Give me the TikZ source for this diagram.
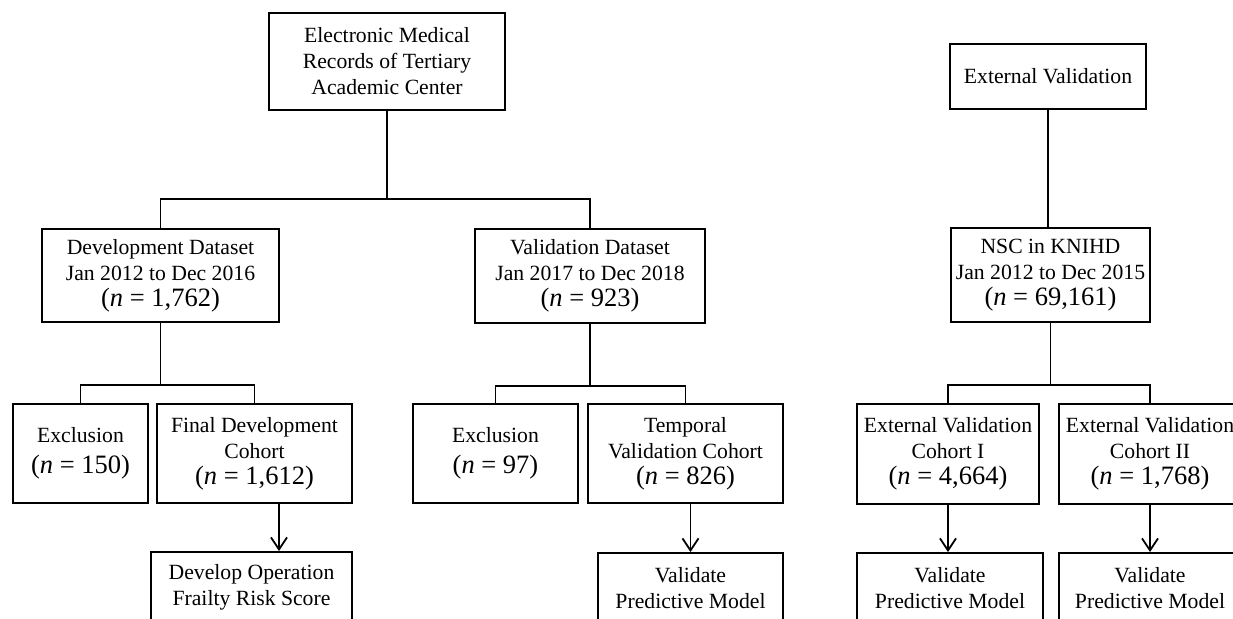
\documentclass[tikz,border=0pt]{standalone}
\usepackage{fontspec}
\setmainfont{Liberation Serif}
\usetikzlibrary{arrows.meta, positioning, calc}

\newcommand{\nsize}[1]{{\fontsize{13.25}{15}\selectfont #1}}

\begin{document}
\begin{tikzpicture}[
    x=0.5pt, y=-0.5pt,
    box/.style={rectangle, draw, line width=1pt, align=center, inner sep=0pt, font=\fontsize{10.85}{13}\selectfont},
    boxsize/.style 2 args={minimum width=#1*0.5pt, minimum height=#2*0.5pt},
    link/.style={line width=0.9pt},
    arrow/.style={-{Straight Barb[length=6pt, width=8pt]}, line width=0.9pt}
]
    \clip (0,0) rectangle (1233,618);

    \node[box, boxsize={236}{97}] (emr) at (387,61.5) {Electronic Medical\\Records of Tertiary\\Academic Center};
    \node[box, boxsize={196}{65}] (extval) at (1048,76.5) {External Validation};

    \node[box, boxsize={237}{93}] (devset) at (160.5,275.5) {Development Dataset\\Jan 2012 to Dec 2016\\\nsize{(\textit{n} = 1,762)}};
    \node[box, boxsize={230}{94}] (valset) at (590,276) {Validation Dataset\\Jan 2017 to Dec 2018\\\nsize{(\textit{n} = 923)}};
    \node[box, boxsize={199}{94}] (nsc) at (1050.5,275) {NSC in KNIHD\\Jan 2012 to Dec 2015\\\nsize{(\textit{n} = 69,161)}};

    \node[box, boxsize={135}{99}] (excldev) at (80.5,453.5) {Exclusion\\[2.5pt]\nsize{(\textit{n} = 150)}};
    \node[box, boxsize={195}{99}] (finaldev) at (254.5,453.5) {Final Development\\Cohort\\\nsize{(\textit{n} = 1,612)}};
    \node[box, boxsize={165}{99}] (exclval) at (495.5,453.5) {Exclusion\\[2.5pt]\nsize{(\textit{n} = 97)}};
    \node[box, boxsize={195}{99}] (temporal) at (685.5,453.5) {Temporal\\Validation Cohort\\\nsize{(\textit{n} = 826)}};
    \node[box, boxsize={182}{100}] (extone) at (948,454) {External Validation\\Cohort I\\\nsize{(\textit{n} = 4,664)}};
    \node[box, boxsize={182}{100}] (exttwo) at (1150,454) {External Validation\\Cohort II\\\nsize{(\textit{n} = 1,768)}};

    \node[box, boxsize={201}{70}] (develop) at (251.5,587) {Develop Operation\\Frailty Risk Score};
    \node[box, boxsize={185}{70}] (valtemp) at (690.5,588) {Validate\\Predictive Model};
    \node[box, boxsize={186}{70}] (valone) at (950,588) {Validate\\Predictive Model};
    \node[box, boxsize={182}{70}] (valtwo) at (1150,588) {Validate\\Predictive Model};

    % Splits
    \draw[link] (emr.south) -- ++(0,88) coordinate (emrjoin);
    \draw[link] (devset.north) |- (emrjoin) -| (valset.north);
    \draw[link] (extval.south) -- (extval.south |- nsc.north);

    \draw[link] (devset.south) -- ++(0,62) coordinate (devjoin);
    \draw[link] (excldev.north) |- (devjoin) -| (finaldev.north);
    \draw[link] (valset.south) -- ++(0,62) coordinate (valjoin);
    \draw[link] (exclval.north) |- (valjoin) -| (temporal.north);
    \draw[link] (nsc.south) -- ++(0,62) coordinate (nscjoin);
    \draw[link] (extone.north) |- (nscjoin) -| (exttwo.north);

    % Arrows to the models
    \coordinate (devout) at ([xshift=12.25pt]finaldev.south);
    \draw[arrow] (devout) -- (devout |- develop.north);
    \draw[arrow] (valtemp.north |- temporal.south) -- (valtemp.north);
    \draw[arrow] (extone.south) -- (extone.south |- valone.north);
    \draw[arrow] (exttwo.south) -- (valtwo.north);
\end{tikzpicture}
\end{document}
